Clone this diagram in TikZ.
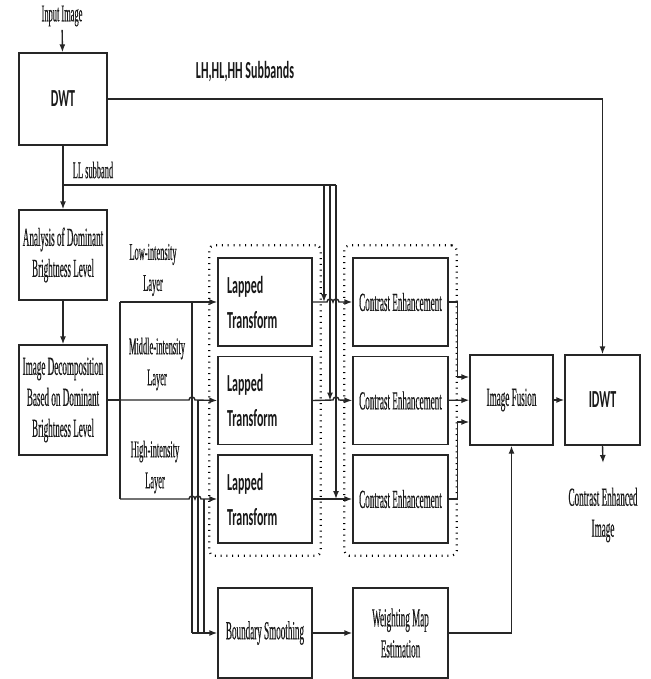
\documentclass[tikz,border=0pt]{standalone}
\usepackage{fontspec}
\usepackage{tikz}
\usetikzlibrary{arrows.meta,positioning,fit}
\newfontfamily\serifcond[FakeStretch=0.35, FakeBold=0.3]{Liberation Serif}
\newfontfamily\sanscond[FakeStretch=0.49]{Carlito}
\newcommand{\boxfont}{\serifcond\fontsize{26}{31}\selectfont}
\newcommand{\smallserif}{\serifcond\fontsize{24}{31}\selectfont}
\newcommand{\labelsans}{\sanscond\bfseries\fontsize{24.5}{35}\selectfont}

\begin{document}
\begin{tikzpicture}[x=1pt, y=-1pt, node distance={98.5pt},
    main/.style = {draw=black!85, line width=1.4pt, minimum width=88pt, minimum height=90pt, inner sep=1pt, align=center, text=black!90, font=\boxfont},
    lapped/.style = {main, minimum width=94pt, minimum height=88pt, text width=76pt, align=left, font=\labelsans},
    group/.style = {draw=black, line width=2.2pt, dash pattern=on 1pt off 4.8pt, rounded corners=5pt, inner xsep=8pt, inner ysep=12pt},
    lbl/.style = {align=center, text=black!90, font=\smallserif},
    wire/.style = {draw=black!85, line width=1.4pt},
    arr/.style = {wire, -{Latex[length=8pt,width=6pt]}}]
    \useasboundingbox (0,0) rectangle (650,679);

    % left column
    \node[lbl] (inimg) at (62,16) {Input Image};
    \node[main, minimum height=92pt, font=\labelsans] (dwt) at (63,99) {DWT};
    \node[font=\labelsans, text=black!90] (subb) at (245,72) {LH,HL,HH Subbands};
    \node[lbl] (llsub) at (93,170) {LL subband};
    \node[main] (adbl) at (63,255) {Analysis of Dominant\\Brightness Level};
    \node[main, minimum height=110pt] (idec) at (63,400) {Image Decomposition\\Based on Dominant\\Brightness Level};

    \node[lbl] (lowl) at (153,270) {Low-intensity\\Layer};
    \node[lbl] (midl) at (157,364) {Middle-intensity\\Layer};
    \node[lbl] (highl) at (155,467) {High-intensity\\Layer};

    % lapped transform stage
    \node[lapped] (lt1) at (265,302) {Lapped\\Transform};
    \node[lapped] (lt2) [below of=lt1] {Lapped\\Transform};
    \node[lapped] (lt3) [below of=lt2] {Lapped\\Transform};
    \node[group, fit=(lt1)(lt3)] (ltbox) {};

    % contrast enhancement stage
    \node[main, minimum width=95pt, minimum height=88pt] (ce1) [node distance=135.5pt, right of=lt1] {Contrast Enhancement};
    \node[main, minimum width=95pt, minimum height=88pt] (ce2) [below of=ce1] {Contrast Enhancement};
    \node[main, minimum width=95pt, minimum height=88pt] (ce3) [below of=ce2] {Contrast Enhancement};
    \node[group, fit=(ce1)(ce3)] (cebox) {};

    \node[main, minimum width=83pt] (fuse) at (511.5,400) {Image Fusion};
    \node[main, minimum width=75pt, font=\labelsans] (idwt) at (602.5,400) {\raisebox{-12pt}{IDWT}};
    \node[lbl, font=\boxfont] (ceout) at (603,515) {Contrast Enhanced\\Image};
    \coordinate (idwtout) at (603,463);

    \node[main, minimum width=94pt] (bsm) at (265,633) {Boundary Smoothing};
    \node[main, minimum width=95pt] (wme) at (400.5,633) {Weighting Map\\Estimation};

    % junction points
    \coordinate (llsplit) at (63,185);
    \coordinate (ll1) at (324,185);
    \coordinate (ll2) at (330,185);
    \coordinate (ll3) at (336,185);
    \coordinate (jlow) at (120,302);
    \coordinate (jmid) at (120,400);
    \coordinate (jhigh) at (120,499);
    \coordinate (bs1) at (192,302);
    \coordinate (bs2) at (198,400);
    \coordinate (bs3) at (204,499);

    \draw[arr] (inimg) -- (dwt);
    \draw[arr] (dwt.east) -| (idwt.north);
    \draw[arr] (dwt) -- (adbl);
    \draw[arr] (adbl) -- (idec);

    % LL subband to the enhancement rows
    \draw[wire] (llsplit) -- (ll3);
    \draw[arr] (ll1) -- (ll1 |- lt1.east);
    \draw[arr] (ll2) -- (ll2 |- lt2.east);
    \draw[arr] (ll3) -- (ll3 |- lt3.east);

    % layers
    \draw[wire] (idec.east) -- (jmid);
    \draw[wire] (jlow) -- (jhigh);
    \draw[arr] (jlow) -- (lt1.west);
    \draw[arr] (jmid) -- (189,400) arc[start angle=180, end angle=0, radius=3pt] -- (lt2.west);
    \draw[arr] (jhigh) -- (189,499) arc[start angle=180, end angle=0, radius=3pt] arc[start angle=180, end angle=0, radius=3pt] -- (lt3.west);

    % layers to boundary smoothing
    \draw[wire] (bs1) -- (bs1 |- bsm.west);
    \draw[wire] (bs2) -- (bs2 |- bsm.west);
    \draw[wire] (bs3) -- (bs3 |- bsm.west);
    \draw[arr] (bs1 |- bsm.west) -- (bsm.west);

    % lapped transform to contrast enhancement
    \draw[arr] (lt1.east) -- (327,302) arc[start angle=180, end angle=0, radius=3pt] arc[start angle=180, end angle=0, radius=3pt] -- (ce1.west);
    \draw[arr] (lt2.east) -- (333,400) arc[start angle=180, end angle=0, radius=3pt] -- (ce2.west);
    \draw[arr] (lt3) -- (ce3);

    % fusion and output
    \draw[arr] (ce1.east) -- ++(9,0) |- ([yshift=23pt]fuse.west);
    \draw[arr] (ce2) -- (fuse);
    \draw[arr] (ce3.east) -- ++(9,0) |- ([yshift=-22pt]fuse.west);
    \draw[arr] (fuse) -- (idwt);
    \draw[arr] (idwt.south) -- (idwtout);
    \draw[arr] (bsm) -- (wme);
    \draw[arr] (wme.east) -| (fuse.south);
\end{tikzpicture}
\end{document}
